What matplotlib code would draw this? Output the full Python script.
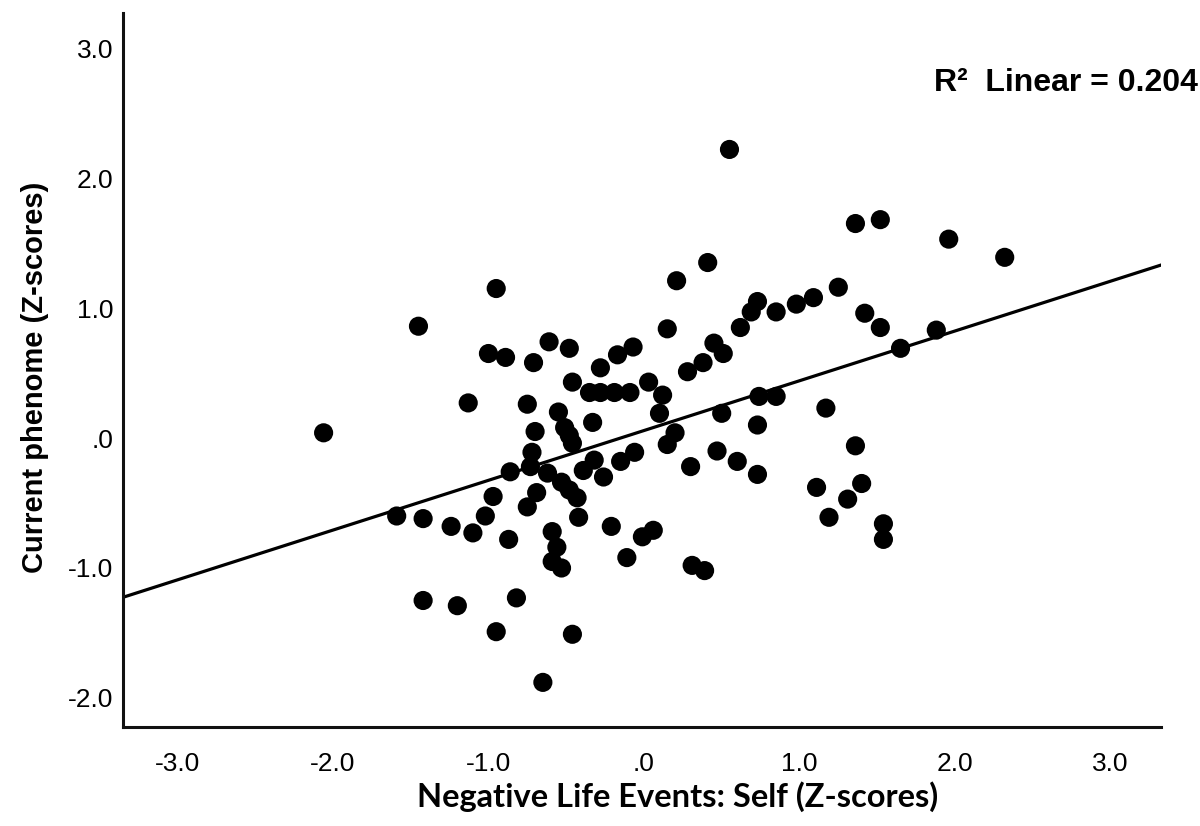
import matplotlib
matplotlib.use('Agg')
import matplotlib.pyplot as plt
import numpy as np

# Negative life events (self) vs current phenome, both as z-scores
neg_life_events = [
    -2.06, -1.59, -1.45, -1.42, -1.42, -1.24, -1.20, -1.13, -1.10, -1.02,
    -1.00, -0.97, -0.95, -0.95, -0.89, -0.87, -0.86, -0.82, -0.75, -0.75,
    -0.73, -0.72, -0.71, -0.70, -0.69, -0.65, -0.62, -0.61, -0.59, -0.56,
    -0.59, -0.53, -0.55, -0.53, -0.51, -0.48, -0.46, -0.48, -0.48, -0.43,
    -0.46, -0.46, -0.42, -0.39, -0.35, -0.33, -0.32, -0.28, -0.28, -0.26,
    -0.21, -0.19, -0.17, -0.15, -0.11, -0.09, -0.07, -0.06, -0.01, 0.03,
    0.06, 0.10, 0.12, 0.15, 0.15, 0.20, 0.21, 0.28, 0.30, 0.31,
    0.38, 0.39, 0.41, 0.45, 0.51, 0.47, 0.50, 0.55, 0.60, 0.62,
    0.69, 0.73, 0.73, 0.73, 0.74, 0.85, 0.85, 0.98, 1.09, 1.11,
    1.17, 1.19, 1.25, 1.31, 1.36, 1.36, 1.40, 1.42, 1.52, 1.52,
    1.54, 1.54, 1.65, 1.88, 1.96, 2.32,
]
current_phenome = [
    0.04, -0.60, 0.86, -0.62, -1.25, -0.68, -1.29, 0.27, -0.73, -0.60,
    0.65, -0.45, 1.15, -1.49, 0.62, -0.78, -0.26, -1.23, 0.26, -0.53,
    -0.22, -0.11, 0.58, 0.05, -0.42, -1.88, -0.27, 0.74, -0.72, -0.84,
    -0.95, -1.00, 0.20, -0.34, 0.08, 0.02, -0.04, 0.69, -0.40, -0.46,
    -1.51, 0.43, -0.61, -0.25, 0.35, 0.12, -0.17, 0.54, 0.35, -0.30,
    -0.68, 0.35, 0.64, -0.18, -0.92, 0.35, 0.70, -0.11, -0.76, 0.43,
    -0.71, 0.19, 0.33, -0.05, 0.84, 0.04, 1.21, 0.51, -0.22, -0.98,
    0.58, -1.02, 1.35, 0.73, 0.65, -0.10, 0.19, 2.22, -0.18, 0.85,
    0.97, 1.05, 0.10, -0.28, 0.32, 0.97, 0.32, 1.03, 1.08, -0.38,
    0.23, -0.61, 1.16, -0.47, 1.65, -0.06, -0.35, 0.96, 1.68, 0.85,
    -0.66, -0.78, 0.69, 0.83, 1.53, 1.39,
]
r2_label = 'R\u00b2  Linear = 0.204'
x_ticks = [-3.0, -2.0, -1.0, 0.0, 1.0, 2.0, 3.0]
y_ticks = [-2.0, -1.0, 0.0, 1.0, 2.0, 3.0]
tick_text = {-3.0: '-3.0', -2.0: '-2.0', -1.0: '-1.0', 0.0: '.0',
             1.0: '1.0', 2.0: '2.0', 3.0: '3.0'}

plt.rcParams['font.family'] = ['Liberation Sans', 'DejaVu Sans']

fig = plt.figure(figsize=(12, 8.26), dpi=100)
ax = fig.add_axes([0.1025, 0.1199, 0.865, 0.8644])

x = np.array(neg_life_events)
y = np.array(current_phenome)
ax.scatter(x, y, s=190, color='black', edgecolors='none', zorder=3)

xlim = (-3.35, 3.325)
ylim = (-2.223, 3.27)
slope, intercept = np.polyfit(x, y, 1)
xs = np.array(xlim)
ax.plot(xs, intercept + slope * xs, color='black', lw=2.3, zorder=2)

ax.set_xlim(*xlim)
ax.set_ylim(*ylim)
ax.set_xticks(x_ticks)
ax.set_xticklabels([tick_text[t] for t in x_ticks])
ax.set_yticks(y_ticks)
ax.set_yticklabels([tick_text[t] for t in y_ticks])
ax.tick_params(axis='both', length=0, labelsize=19, colors='black')
ax.tick_params(axis='x', pad=18)
ax.tick_params(axis='y', pad=7)

for side in ['top', 'right']:
    ax.spines[side].set_visible(False)
for side in ['left', 'bottom']:
    ax.spines[side].set_linewidth(2.2)
    ax.spines[side].set_color('#111111')

fig.text(0.565, 0.035, 'Negative Life Events: Self (Z-scores)',
         ha='center', va='center', fontsize=23.5, fontweight='bold',
         family=['Lato', 'DejaVu Sans'], color='black')
fig.text(0.029, 0.543, 'Current phenome (Z-scores)', rotation=90,
         ha='center', va='center', fontsize=21, fontweight='bold',
         family=['Liberation Sans Narrow', 'Liberation Sans'], color='black')
fig.text(0.998, 0.9, r2_label, ha='right', va='center',
         fontsize=23, fontweight='bold', color='black')

fig.savefig('out.png', dpi=100)
